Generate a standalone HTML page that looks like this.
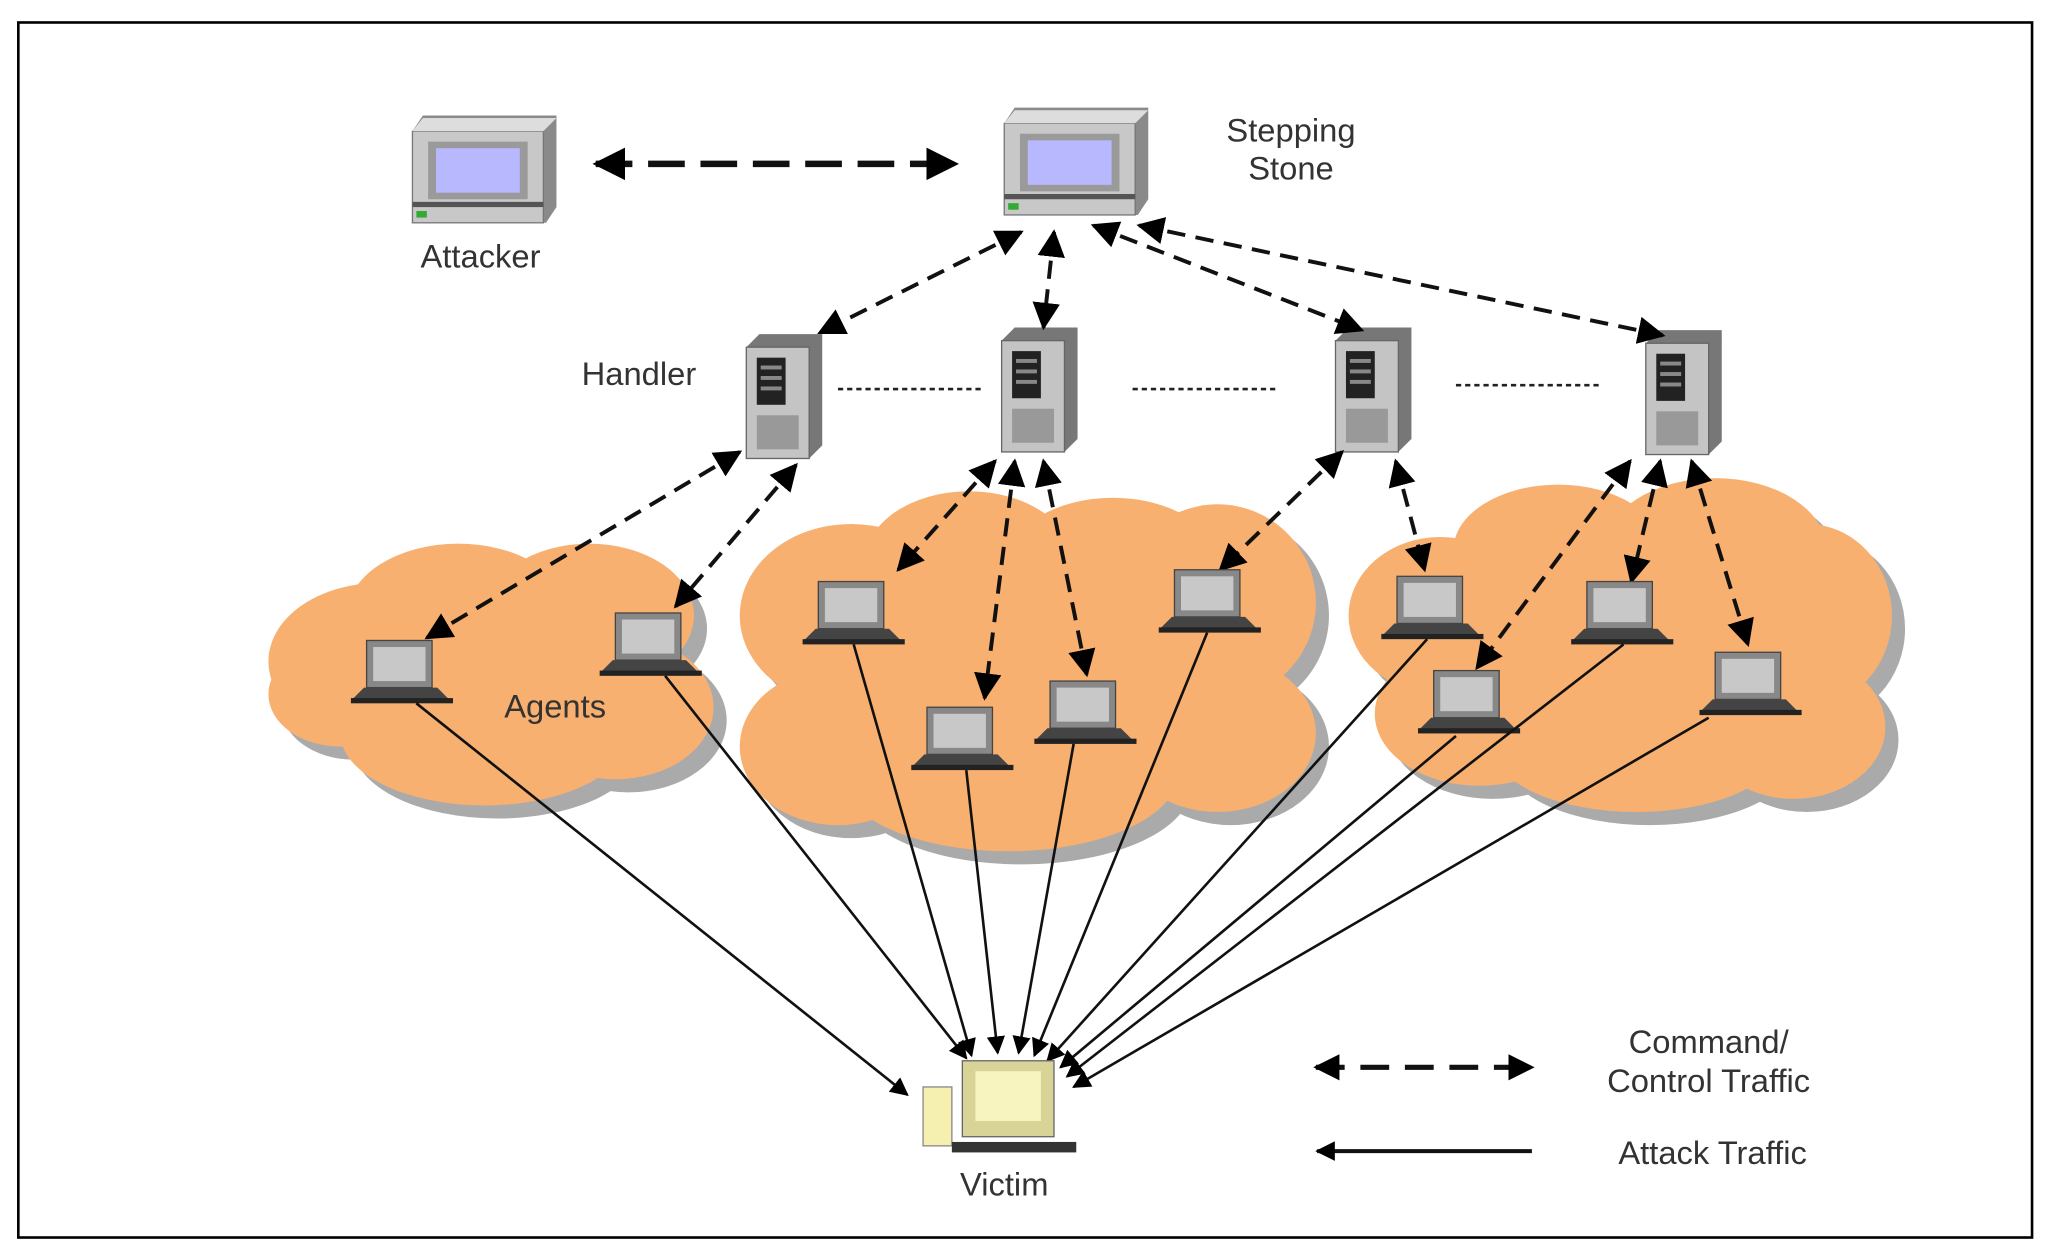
<!DOCTYPE html>
<html><head><style>
html,body{margin:0;padding:0;background:#fff;}
svg{display:block;}
text{font-family:"Liberation Sans",sans-serif;fill:#333;}
</style></head><body>
<svg width="2053" height="1260" viewBox="0 0 1568 962" xmlns="http://www.w3.org/2000/svg">
<defs>
<marker id="ah" viewBox="0 0 10 10" refX="9" refY="5" markerWidth="5" markerHeight="5" orient="auto-start-reverse"><path d="M0,0L10,5L0,10z" fill="#000"/></marker>
<marker id="as" viewBox="0 0 10 10" refX="9" refY="5" markerWidth="7" markerHeight="7" orient="auto-start-reverse"><path d="M0,0L10,5L0,10z" fill="#000"/></marker>
<g id="pc">
<path d="M0,12 L8,0 L110,0 L110,70 L102,82 L0,82 Z" fill="#8a8a8a"/>
<rect x="0" y="12" width="100" height="70" fill="#c8c8c8" stroke="#777"/>
<path d="M0,12 L8,2 L110,2 L100,12Z" fill="#ddd"/>
<rect x="12" y="20" width="76" height="44" fill="#9a9a9a"/>
<rect x="18" y="25" width="64" height="34" fill="#b8b8ff"/>
<rect x="0" y="66" width="100" height="4" fill="#555"/>
<rect x="3" y="73" width="8" height="5" fill="#3a3"/>
</g>
<g id="srv">
<path d="M0,10 L10,0 L58,0 L58,85 L48,95 L0,95Z" fill="#777"/>
<rect x="0" y="10" width="48" height="85" fill="#c4c4c4" stroke="#666"/>
<rect x="8" y="18" width="22" height="36" fill="#222"/>
<rect x="11" y="24" width="16" height="3" fill="#888"/><rect x="11" y="32" width="16" height="3" fill="#888"/><rect x="11" y="40" width="16" height="3" fill="#888"/>
<rect x="8" y="62" width="32" height="26" fill="#999"/>
</g>
<g id="lap">
<rect x="12" y="0" width="50" height="36" fill="#888" stroke="#444"/>
<rect x="17" y="5" width="40" height="26" fill="#c8c8c8"/>
<path d="M0,46 L10,36 L66,36 L76,46Z" fill="#444"/>
<rect x="0" y="44" width="78" height="4" fill="#222"/>
</g>
<g id="cl1"><ellipse cx="290" cy="505" rx="85" ry="60"/><ellipse cx="350" cy="470" rx="85" ry="55"/><ellipse cx="450" cy="470" rx="80" ry="55"/><ellipse cx="470" cy="540" rx="75" ry="55"/><ellipse cx="370" cy="560" rx="110" ry="55"/><ellipse cx="260" cy="530" rx="55" ry="40"/><ellipse cx="380" cy="515" rx="130" ry="70"/></g>
<g id="cl2"><ellipse cx="650" cy="470" rx="85" ry="70"/><ellipse cx="740" cy="430" rx="80" ry="55"/><ellipse cx="850" cy="430" rx="80" ry="50"/><ellipse cx="930" cy="460" rx="75" ry="75"/><ellipse cx="930" cy="560" rx="75" ry="60"/><ellipse cx="640" cy="570" rx="75" ry="60"/><ellipse cx="770" cy="590" rx="130" ry="60"/><ellipse cx="785" cy="510" rx="190" ry="105"/></g>
<g id="cl3"><ellipse cx="1100" cy="470" rx="70" ry="60"/><ellipse cx="1190" cy="420" rx="80" ry="50"/><ellipse cx="1310" cy="420" rx="85" ry="55"/><ellipse cx="1380" cy="470" rx="65" ry="70"/><ellipse cx="1370" cy="555" rx="70" ry="55"/><ellipse cx="1250" cy="570" rx="110" ry="50"/><ellipse cx="1130" cy="545" rx="80" ry="55"/><ellipse cx="1240" cy="495" rx="170" ry="90"/></g>
</defs>
<rect x="14" y="17" width="1538" height="928" fill="#fff" stroke="#000" stroke-width="2"/>
<g fill="#aaa" transform="translate(10,10)"><use href="#cl1"/><use href="#cl2"/><use href="#cl3"/></g>
<g fill="#f8b070"><use href="#cl1"/><use href="#cl2"/><use href="#cl3"/></g>
<use href="#pc" x="315" y="88"/>
<use href="#pc" x="767" y="82"/>
<text x="367" y="204" font-size="25" text-anchor="middle">Attacker</text>
<text x="986" y="108" font-size="25" text-anchor="middle">Stepping</text>
<text x="986" y="137" font-size="25" text-anchor="middle">Stone</text>
<line x1="455" y1="125" x2="730" y2="125" stroke="#111" stroke-width="5" stroke-dasharray="28,12" marker-start="url(#ah)" marker-end="url(#ah)"/>
<use href="#srv" x="570" y="255"/><use href="#srv" x="765" y="250"/><use href="#srv" x="1020" y="250"/><use href="#srv" x="1257" y="252"/>
<text x="488" y="294" font-size="25" text-anchor="middle">Handler</text>
<g stroke="#222" stroke-width="2" stroke-dasharray="4,3"><line x1="640" y1="297" x2="750" y2="297"/><line x1="865" y1="297" x2="975" y2="297"/><line x1="1112" y1="294" x2="1222" y2="294"/></g>
<g stroke="#111" stroke-width="3" stroke-dasharray="14,8" fill="none" marker-start="url(#as)" marker-end="url(#as)">
<line x1="780" y1="177" x2="626" y2="254"/>
<line x1="805" y1="177" x2="797" y2="250"/>
<line x1="835" y1="172" x2="1040" y2="252"/>
<line x1="870" y1="172" x2="1270" y2="256"/>
<line x1="565" y1="345" x2="326" y2="487"/>
<line x1="608" y1="355" x2="516" y2="463"/>
<line x1="760" y1="352" x2="686" y2="435"/>
<line x1="775" y1="352" x2="752" y2="533"/>
<line x1="797" y1="352" x2="830" y2="515"/>
<line x1="1025" y1="345" x2="932" y2="435"/>
<line x1="1066" y1="352" x2="1088" y2="435"/>
<line x1="1245" y1="352" x2="1128" y2="510"/>
<line x1="1268" y1="352" x2="1246" y2="444"/>
<line x1="1292" y1="352" x2="1335" y2="492"/>
</g>
<use href="#lap" x="268" y="489"/><use href="#lap" x="458" y="468"/>
<use href="#lap" x="613" y="444"/><use href="#lap" x="696" y="540"/><use href="#lap" x="790" y="520"/><use href="#lap" x="885" y="435"/>
<use href="#lap" x="1055" y="440"/><use href="#lap" x="1083" y="512"/><use href="#lap" x="1200" y="444"/><use href="#lap" x="1298" y="498"/>
<text x="424" y="548" font-size="25" text-anchor="middle">Agents</text>
<g stroke="#111" stroke-width="2" fill="none" marker-end="url(#as)">
<line x1="318" y1="537" x2="693" y2="836"/>
<line x1="508" y1="516" x2="738" y2="808"/>
<line x1="652" y1="492" x2="742" y2="806"/>
<line x1="738" y1="588" x2="762" y2="804"/>
<line x1="820" y1="568" x2="778" y2="804"/>
<line x1="922" y1="483" x2="790" y2="806"/>
<line x1="1090" y1="488" x2="800" y2="810"/>
<line x1="1112" y1="562" x2="810" y2="815"/>
<line x1="1240" y1="492" x2="815" y2="822"/>
<line x1="1305" y1="548" x2="820" y2="830"/>
</g>
<rect x="705" y="830" width="22" height="45" fill="#f5f0b0" stroke="#888"/>
<rect x="735" y="810" width="70" height="58" fill="#d8d498" stroke="#666"/>
<rect x="745" y="818" width="50" height="38" fill="#f8f4c0"/>
<rect x="727" y="872" width="95" height="8" fill="#333"/>
<text x="767" y="913" font-size="25" text-anchor="middle">Victim</text>
<line x1="1005" y1="815" x2="1170" y2="815" stroke="#111" stroke-width="4" stroke-dasharray="22,12" marker-start="url(#ah)" marker-end="url(#ah)"/>
<line x1="1170" y1="879" x2="1006" y2="879" stroke="#111" stroke-width="3" marker-end="url(#ah)"/>
<text x="1305" y="804" font-size="25" text-anchor="middle">Command/</text>
<text x="1305" y="834" font-size="25" text-anchor="middle">Control Traffic</text>
<text x="1308" y="889" font-size="25" text-anchor="middle">Attack Traffic</text>
</svg>
</body></html>
